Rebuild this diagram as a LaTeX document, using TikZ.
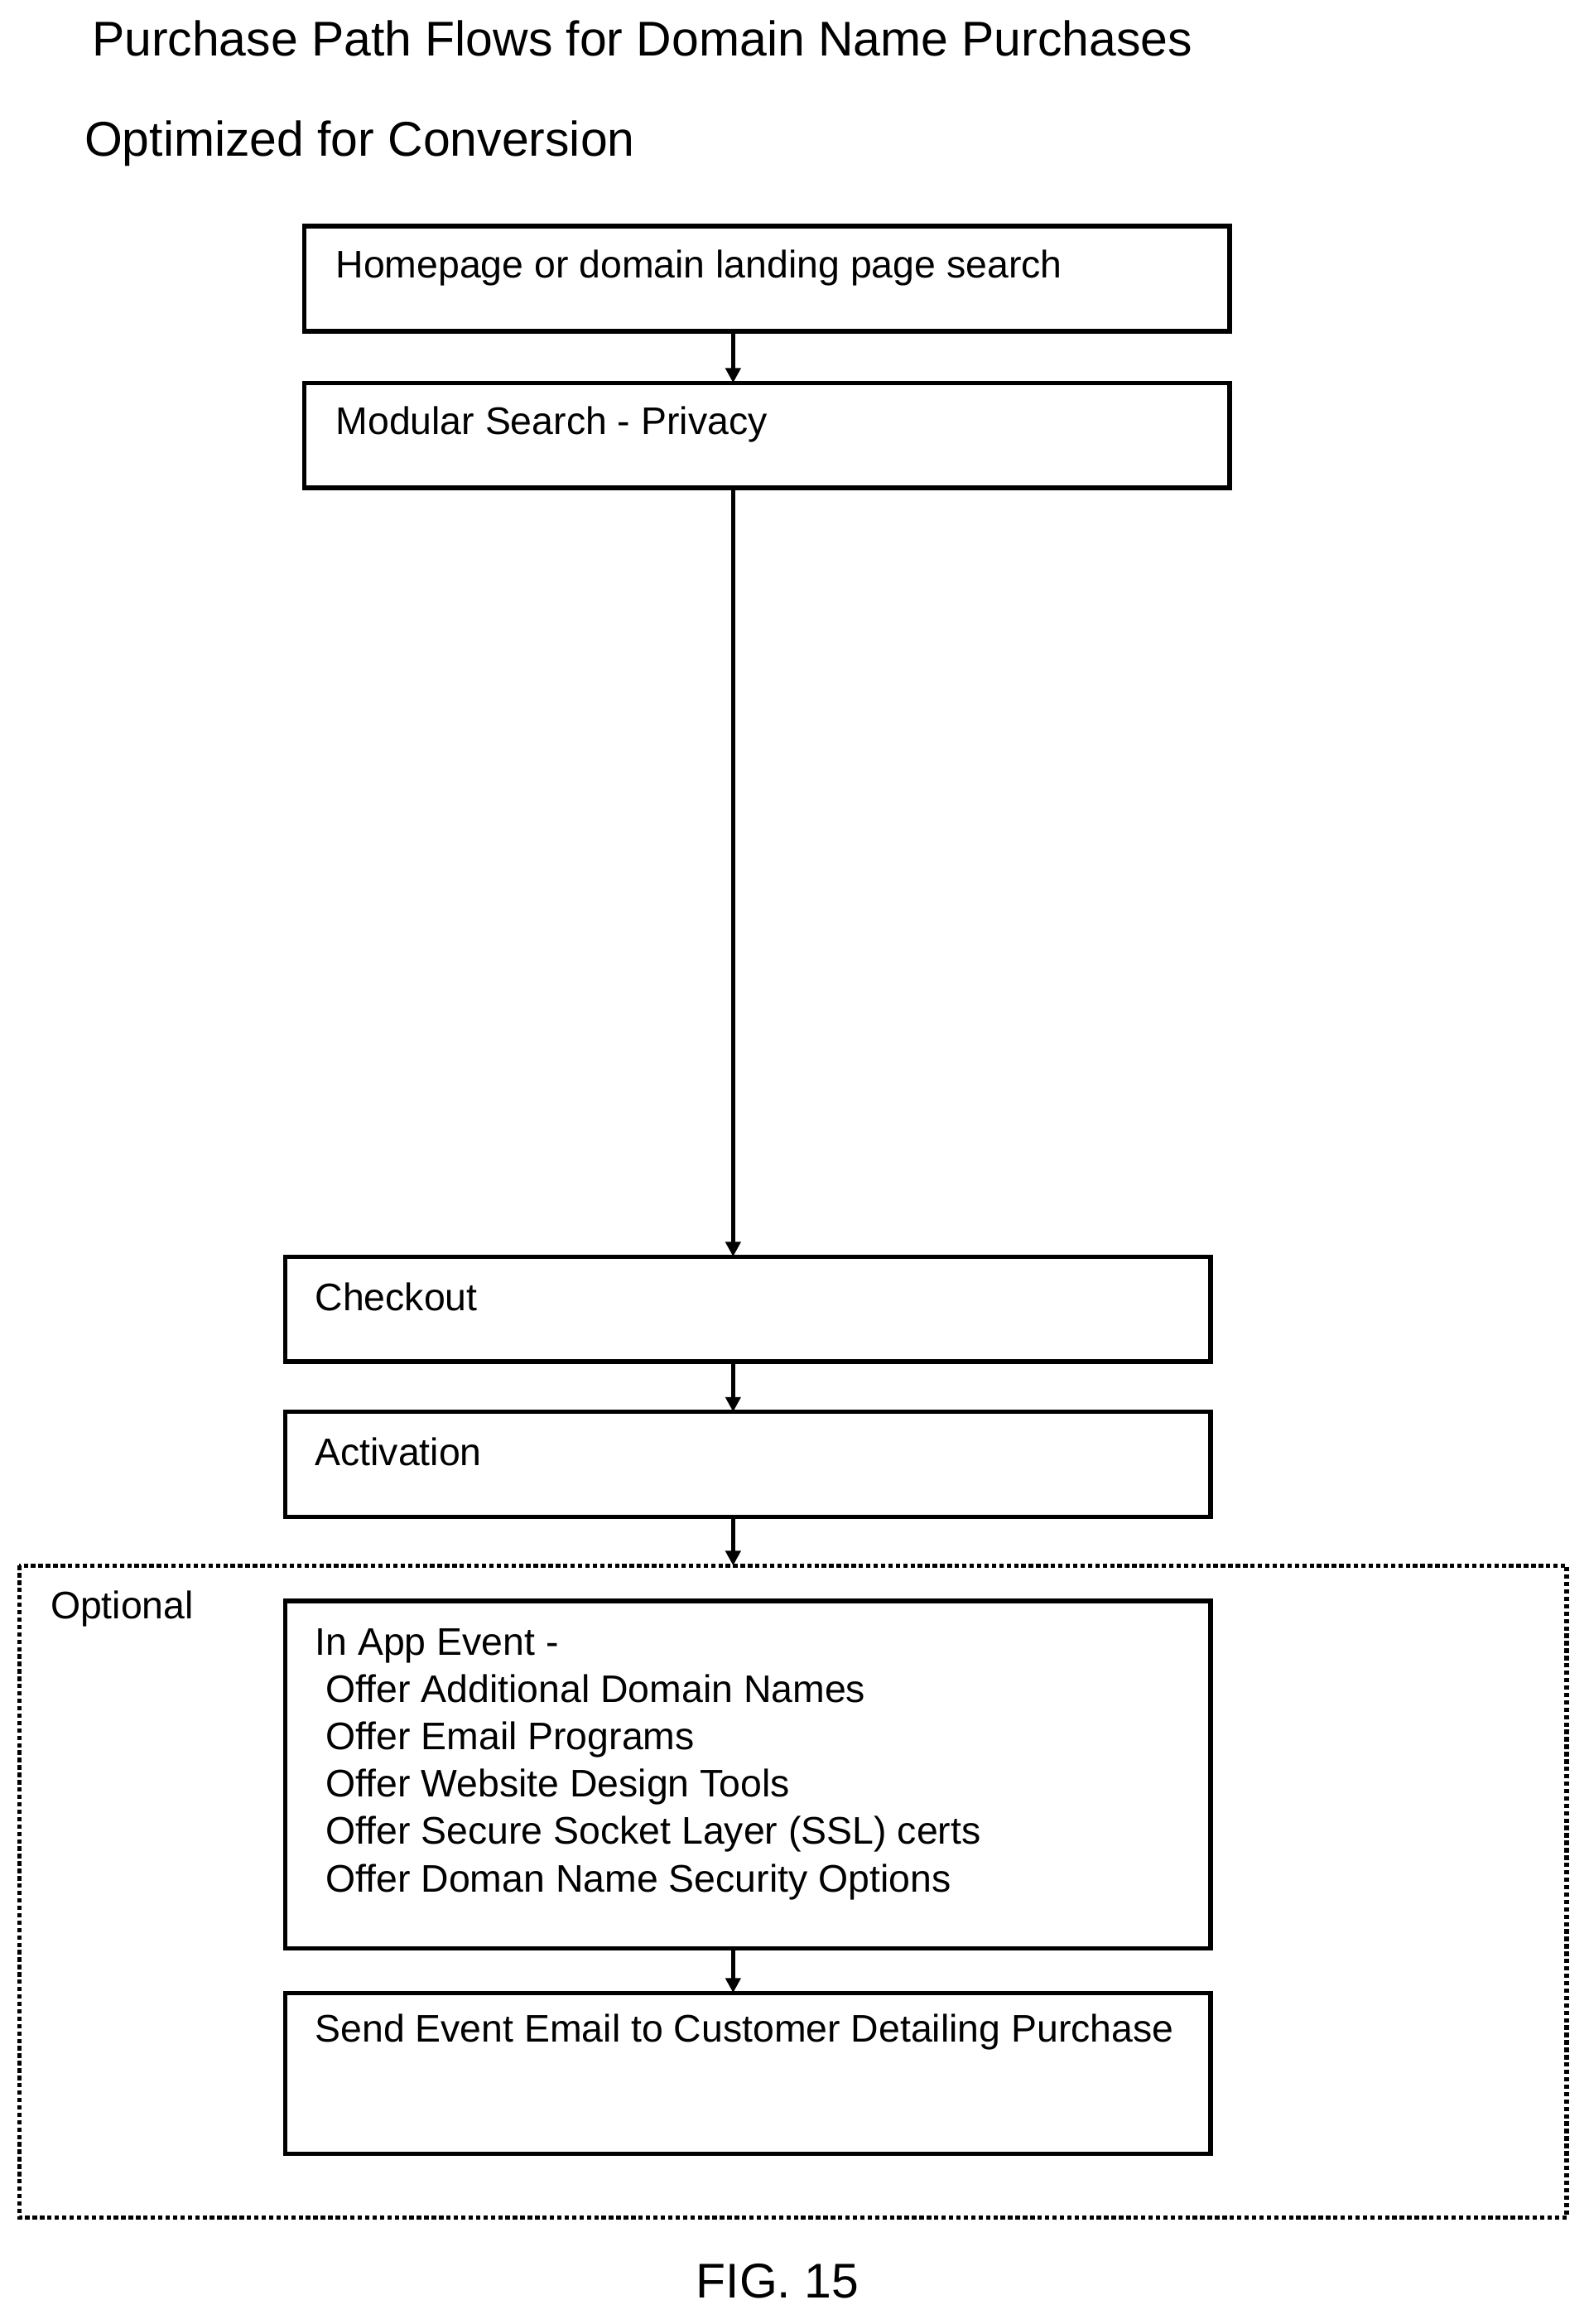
\documentclass[tikz,border=0pt]{standalone}
\usepackage{fontspec}
\setmainfont{Liberation Sans}
\usetikzlibrary{arrows.meta}
\begin{document}
\begin{tikzpicture}[x=1pt,y=-1pt,
  box/.style={draw,line width=3pt},
  txt/.style={anchor=west,inner sep=0pt,font=\fontsize{26}{32}\selectfont},
  arr/.style={line width=3pt,-{Triangle[length=10pt,width=10pt]}}]
\useasboundingbox (0,0) rectangle (1075,1572);
\node[anchor=west,inner sep=0pt,font=\fontsize{33}{40}\selectfont] (t1) at (62,26) {Purchase Path Flows for Domain Name Purchases};
\node[anchor=west,inner sep=0pt,font=\fontsize{33}{40}\selectfont] (t2) at (57,97) {Optimized for Conversion};
\draw[box] (206,153) rectangle (832,224);
\node[txt] (b1) at (227,181) {Homepage or domain landing page search};
\draw[box] (206,259) rectangle (832,330);
\node[txt] (b2) at (227,287) {Modular Search - Privacy};
\draw[box] (193,850) rectangle (819,921);
\node[txt] (b3) at (213,877) {Checkout};
\draw[box] (193,955) rectangle (819,1026);
\node[txt] (b4) at (213,982) {Activation};
\draw[line width=3pt,dotted] (13,1059) rectangle (1060,1500);
\node[txt] (opt) at (34,1088) {Optional};
\draw[box] (193,1083) rectangle (819,1318);
\node[txt,anchor=north west] (b5) at (213,1097) {\begin{tabular}{@{}l@{}}In App Event -\\
\ Offer Additional Domain Names\\
\ Offer Email Programs\\
\ Offer Website Design Tools\\
\ Offer Secure Socket Layer (SSL) certs\\
\ Offer Doman Name Security Options\end{tabular}};
\draw[box] (193,1348) rectangle (819,1457);
\node[txt,anchor=north west,text width=586pt,align=justify] (b6) at (213,1362) {Send Event Email to Customer Detailing Purchase};
\coordinate (a1) at (496,224); \coordinate (a2) at (496,259);
\coordinate (a3) at (496,330); \coordinate (a4) at (496,850);
\coordinate (a5) at (496,921); \coordinate (a6) at (496,955);
\coordinate (a7) at (496,1026); \coordinate (a8) at (496,1059);
\coordinate (a9) at (496,1318); \coordinate (a10) at (496,1348);
\draw[arr] (a1)--(a2); \draw[arr] (a3)--(a4); \draw[arr] (a5)--(a6);
\draw[arr] (a7)--(a8); \draw[arr] (a9)--(a10);
\node[inner sep=0pt,font=\fontsize{33}{40}\selectfont] (fig) at (526,1543) {FIG. 15};
\end{tikzpicture}
\end{document}
